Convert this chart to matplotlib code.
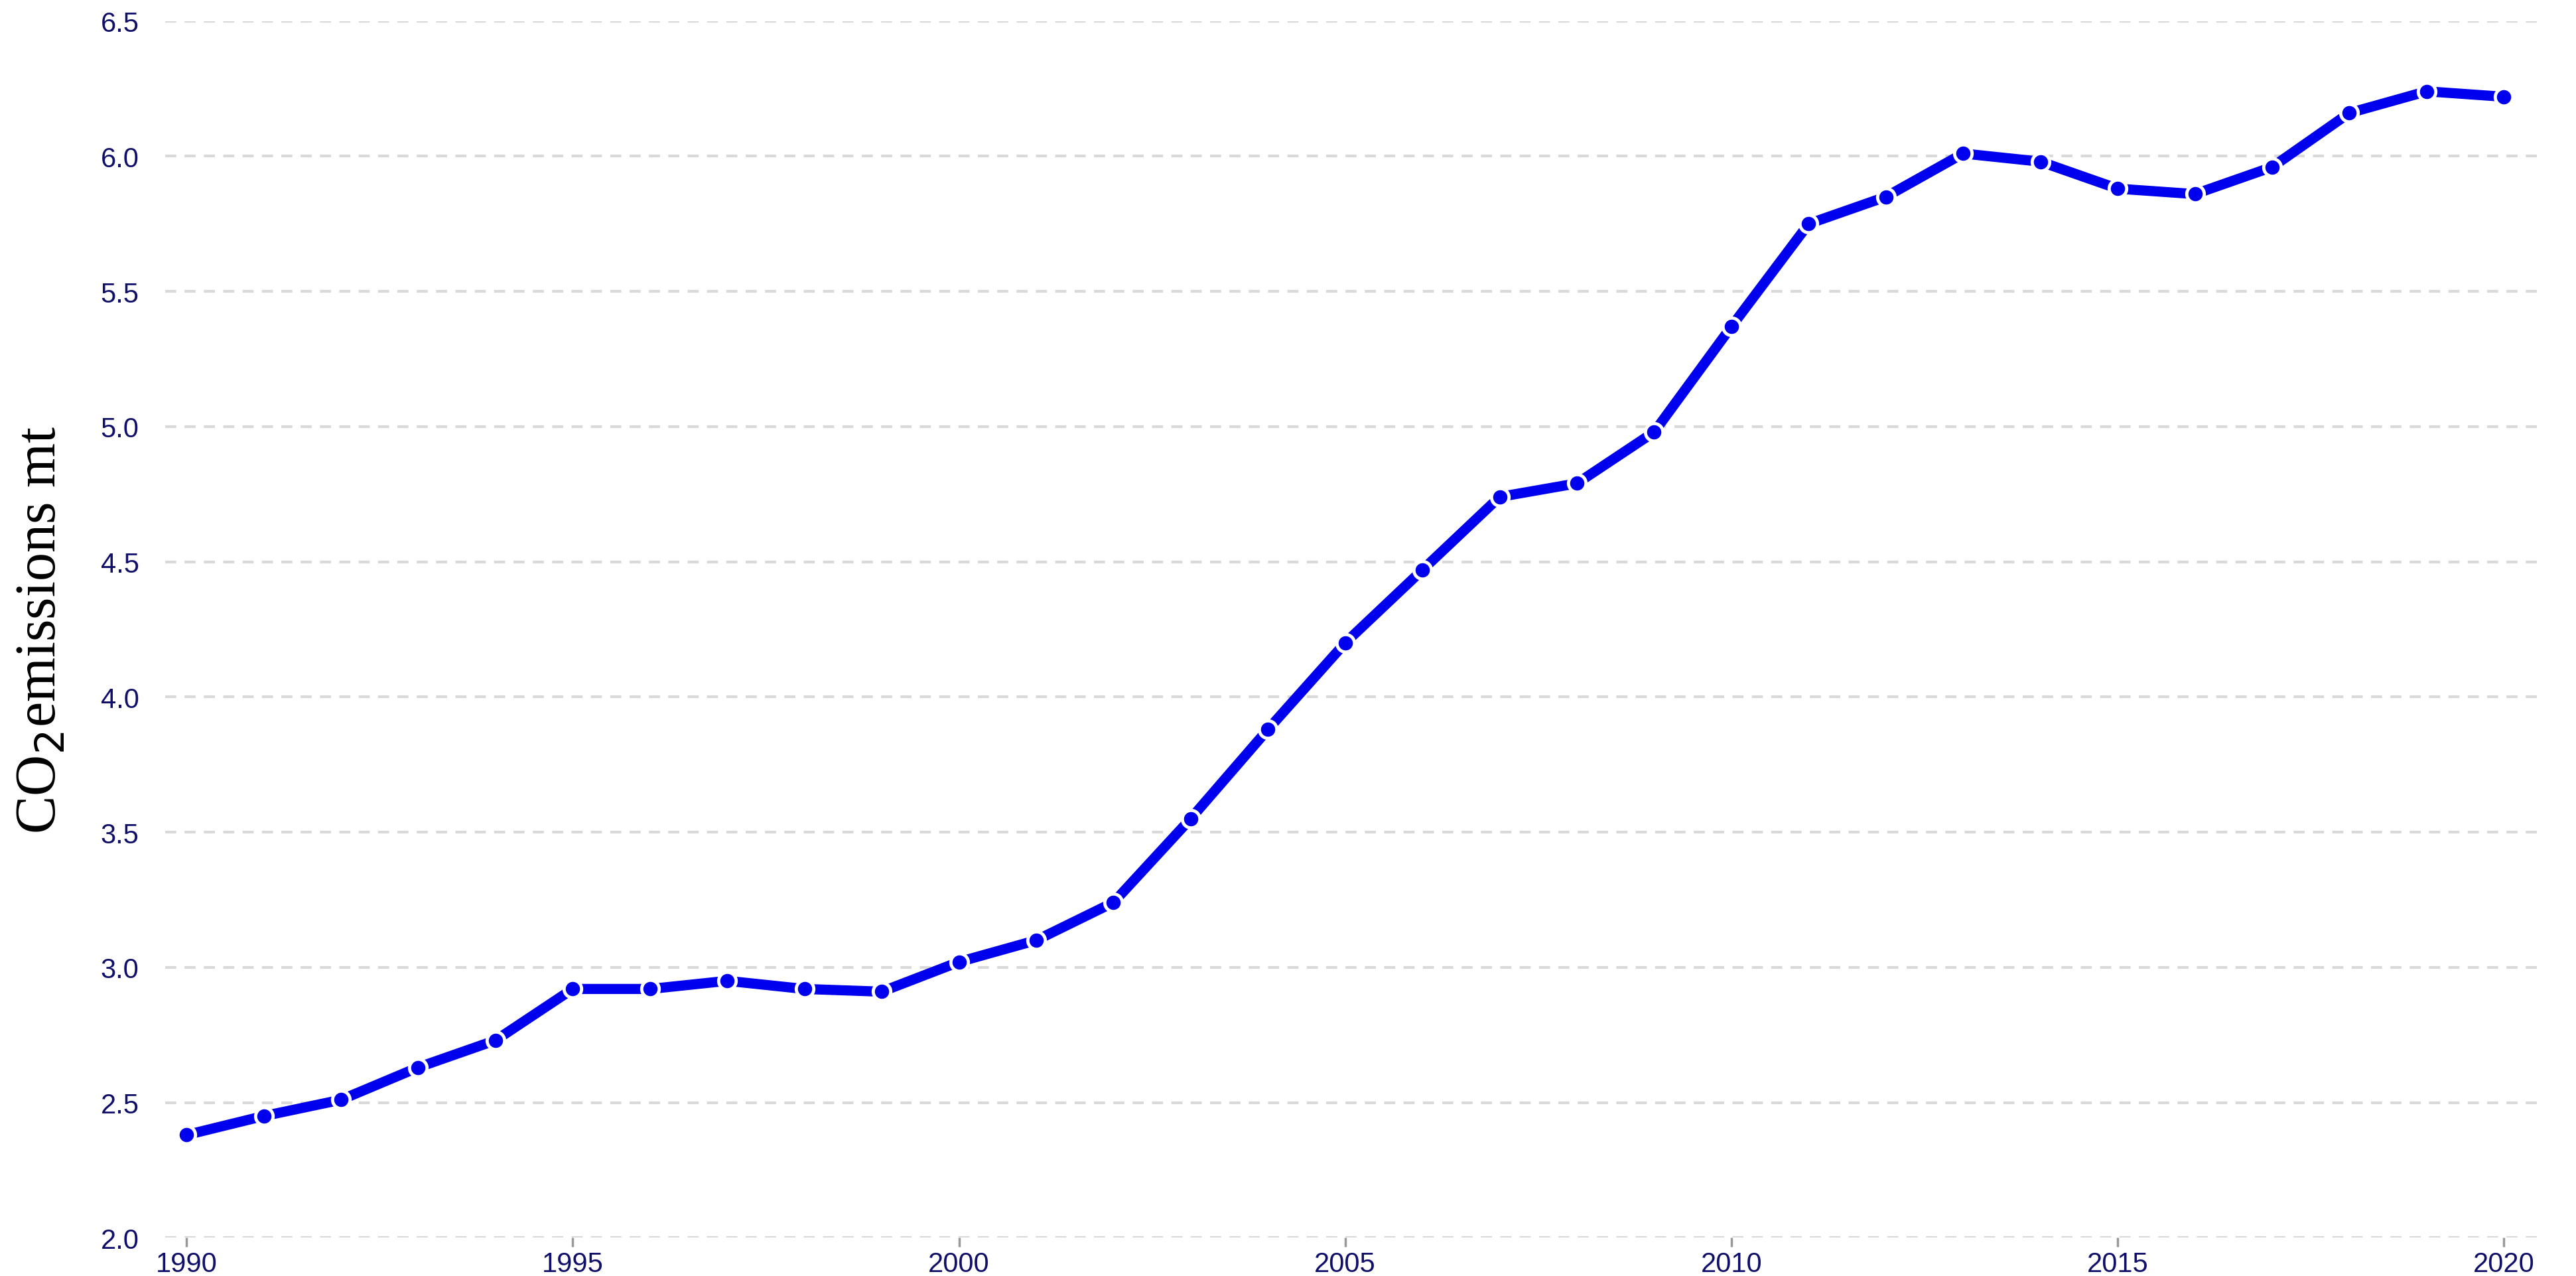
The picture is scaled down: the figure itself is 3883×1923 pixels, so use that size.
import matplotlib.pyplot as plt

# --- DATA ---
years = list(range(1990, 2021))
emissions = [2.38, 2.45, 2.51, 2.63, 2.73, 2.92, 2.92, 2.95, 2.92, 2.91,
             3.02, 3.10, 3.24, 3.55, 3.88, 4.20, 4.47, 4.74, 4.79, 4.98,
             5.37, 5.75, 5.85, 6.01, 5.98, 5.88, 5.86, 5.96, 6.16, 6.24,
             6.22]
y_ticks = [2.0, 2.5, 3.0, 3.5, 4.0, 4.5, 5.0, 5.5, 6.0, 6.5]
x_ticks = [1990, 1995, 2000, 2005, 2010, 2015, 2020]

fig = plt.figure(figsize=(38.83, 19.24), dpi=100)
ax = fig.add_axes([0.064, 0.03, 0.923, 0.953])

ax.plot(years, emissions, color='#0000ee', linewidth=11, marker='o',
        markersize=19, markerfacecolor='#0000ee', markeredgecolor='white',
        markeredgewidth=3.5, zorder=3)

ax.set_xlim(1989.72, 2020.5)
ax.set_ylim(2.0, 6.5)
ax.set_yticks(y_ticks)
ax.set_yticklabels([f'{v:.1f}' for v in y_ticks])
ax.set_xticks(x_ticks)

ax.grid(axis='y', color='#d9d9d9', linestyle=(0, (4, 3)), linewidth=3)
ax.set_axisbelow(True)
for s in ax.spines.values():
    s.set_visible(False)

ax.tick_params(axis='y', length=0, pad=28, labelsize=30, labelcolor='#10106a')
ax.tick_params(axis='x', length=10, width=2.5, color='#999999', pad=4,
               labelsize=30, labelcolor='#10106a')
for lab in ax.get_xticklabels() + ax.get_yticklabels():
    lab.set_family(['Liberation Sans', 'DejaVu Sans'])

ax.set_ylabel('CO$_2$emissions mt', family='Liberation Serif', fontsize=62,
              labelpad=35)

fig.savefig('out.png', dpi=100, facecolor='white')
